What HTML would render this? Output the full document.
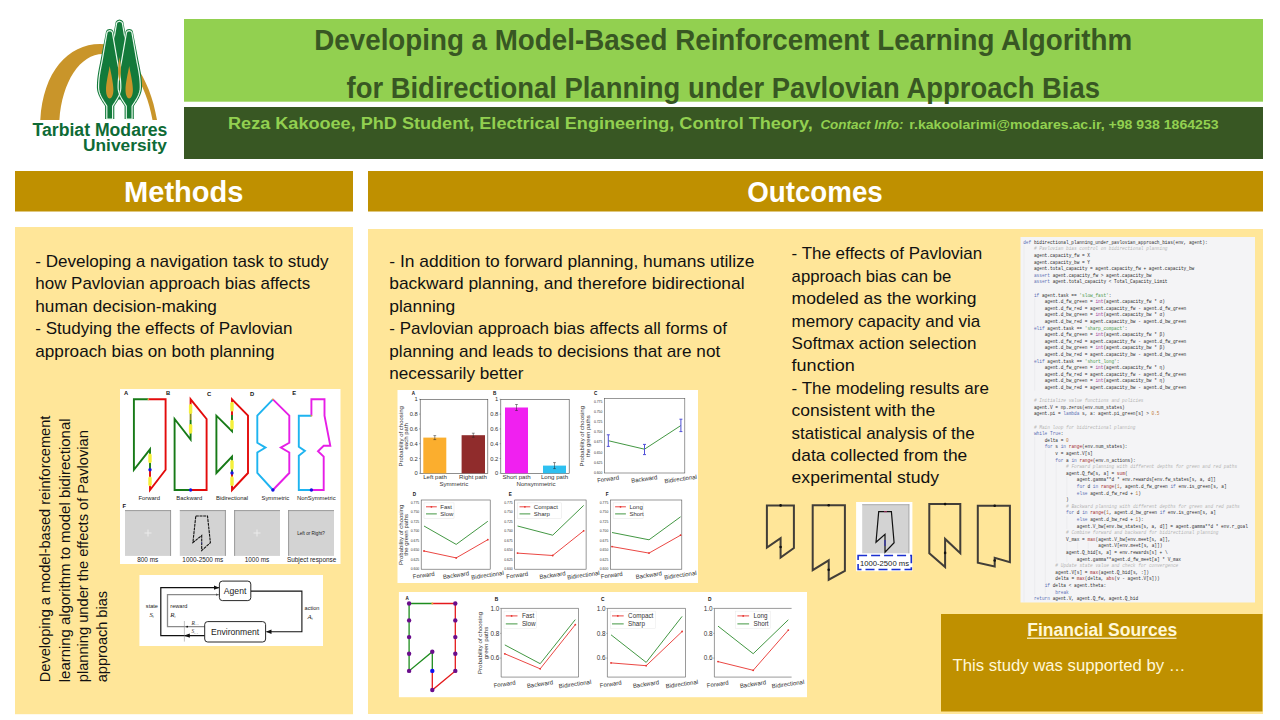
<!DOCTYPE html>
<html><head><meta charset="utf-8">
<style>
html,body{margin:0;padding:0;background:#fff;width:1280px;height:720px;overflow:hidden;}
svg{position:absolute;left:0;top:0;}

</style></head>
<body>
<svg width="1280" height="720" viewBox="0 0 1280 720" font-family="Liberation Sans, sans-serif">
<!-- header bars -->
<rect x="184" y="19" width="1079" height="82.7" fill="#92D050"/>
<rect x="184" y="107" width="1079" height="52" fill="#385723"/>
<text x="314.3" y="50" font-size="29.5" font-weight="bold" fill="#385723" textLength="817.8" lengthAdjust="spacingAndGlyphs">Developing a Model-Based Reinforcement Learning Algorithm</text>
<text x="346.5" y="98" font-size="29.5" font-weight="bold" fill="#385723" textLength="753.5" lengthAdjust="spacingAndGlyphs">for Bidirectional Planning under Pavlovian Approach Bias</text>
<text x="228" y="128.7" font-size="16.8" font-weight="bold" fill="#92D050" textLength="584.7" lengthAdjust="spacingAndGlyphs">Reza Kakooee, PhD Student, Electrical Engineering, Control Theory,</text>
<text x="820.4" y="128.5" font-size="12" font-weight="bold" font-style="italic" fill="#92D050" textLength="83" lengthAdjust="spacingAndGlyphs">Contact Info:</text>
<text x="909.3" y="128.5" font-size="12.5" font-weight="bold" fill="#92D050" textLength="309.3" lengthAdjust="spacingAndGlyphs">r.kakoolarimi@modares.ac.ir, +98 938 1864253</text>

<!-- section headers -->
<rect x="15" y="171" width="338" height="40.5" fill="#BF9000"/>
<rect x="368" y="171" width="895" height="40.5" fill="#BF9000"/>
<text x="124" y="201.6" font-size="29" font-weight="bold" fill="#fff" textLength="119.5" lengthAdjust="spacingAndGlyphs">Methods</text>
<text x="747.2" y="201.5" font-size="29" font-weight="bold" fill="#fff" textLength="135.6" lengthAdjust="spacingAndGlyphs">Outcomes</text>

<!-- bodies -->
<rect x="15" y="227" width="338" height="487.2" fill="#FFE699"/>
<rect x="368" y="229" width="895" height="485" fill="#FFE699"/>

<g font-size="16.2" fill="#111">
<text x="35.3" y="266.6" textLength="293.2" lengthAdjust="spacingAndGlyphs">- Developing a navigation task to study</text>
<text x="35.3" y="289.3" textLength="274.9" lengthAdjust="spacingAndGlyphs">how Pavlovian approach bias affects</text>
<text x="35.3" y="311.8" textLength="181.6" lengthAdjust="spacingAndGlyphs">human decision-making</text>
<text x="35.3" y="334.3" textLength="257.2" lengthAdjust="spacingAndGlyphs">- Studying the effects of Pavlovian</text>
<text x="35.3" y="356.8" textLength="239.2" lengthAdjust="spacingAndGlyphs">approach bias on both planning</text>

<text x="389.3" y="266.8" textLength="365.2" lengthAdjust="spacingAndGlyphs">- In addition to forward planning, humans utilize</text>
<text x="389.3" y="289.2" textLength="355.2" lengthAdjust="spacingAndGlyphs">backward planning, and therefore bidirectional</text>
<text x="389.3" y="311.7" textLength="65.9" lengthAdjust="spacingAndGlyphs">planning</text>
<text x="389.3" y="334.1" textLength="337.6" lengthAdjust="spacingAndGlyphs">- Pavlovian approach bias affects all forms of</text>
<text x="389.3" y="356.5" textLength="330.9" lengthAdjust="spacingAndGlyphs">planning and leads to decisions that are not</text>
<text x="389.3" y="378.9" textLength="134.2" lengthAdjust="spacingAndGlyphs">necessarily better</text>

<text x="791.6" y="259.4" textLength="190.6" lengthAdjust="spacingAndGlyphs">- The effects of Pavlovian</text>
<text x="791.6" y="281.8" textLength="159.6" lengthAdjust="spacingAndGlyphs">approach bias can be</text>
<text x="791.6" y="304.2" textLength="184.8" lengthAdjust="spacingAndGlyphs">modeled as the working</text>
<text x="791.6" y="326.6" textLength="188.7" lengthAdjust="spacingAndGlyphs">memory capacity and via</text>
<text x="791.6" y="349.0" textLength="184.8" lengthAdjust="spacingAndGlyphs">Softmax action selection</text>
<text x="791.6" y="371.4" textLength="63.1" lengthAdjust="spacingAndGlyphs">function</text>
<text x="791.6" y="393.8" textLength="197.3" lengthAdjust="spacingAndGlyphs">- The modeling results are</text>
<text x="791.6" y="416.2" textLength="143.7" lengthAdjust="spacingAndGlyphs">consistent with the</text>
<text x="791.6" y="438.6" textLength="183.1" lengthAdjust="spacingAndGlyphs">statistical analysis of the</text>
<text x="791.6" y="461.0" textLength="175.6" lengthAdjust="spacingAndGlyphs">data collected from the</text>
<text x="791.6" y="483.4" textLength="147.5" lengthAdjust="spacingAndGlyphs">experimental study</text>
</g>

<!-- rotated text -->
<g font-size="15.3" fill="#111">
<text transform="translate(50.3,682.2) rotate(-90)" textLength="266.6" lengthAdjust="spacingAndGlyphs">Developing a model-based reinforcement</text>
<text transform="translate(69.5,682.2) rotate(-90)" textLength="263.7" lengthAdjust="spacingAndGlyphs">learning algorithm to model bidirectional</text>
<text transform="translate(88.1,682.2) rotate(-90)" textLength="252" lengthAdjust="spacingAndGlyphs">planning under the effects of Pavlovian</text>
<text transform="translate(106.5,682.2) rotate(-90)" textLength="91.2" lengthAdjust="spacingAndGlyphs">approach bias</text>
</g>

<!-- financial -->
<rect x="941" y="614" width="321.5" height="97.5" fill="#BF9000"/>
<text x="1027.2" y="635.6" font-size="18" font-weight="bold" fill="#FFF8D8" textLength="150" lengthAdjust="spacingAndGlyphs">Financial Sources</text>
<rect x="1027" y="637.6" width="149.5" height="1.2" fill="#FFF8D8"/>
<text x="952.5" y="670.6" font-size="16.8" fill="#FFF8D8" textLength="233" lengthAdjust="spacingAndGlyphs">This study was supported by …</text>

<!-- LOGO -->
<g id="logo">
<path d="M40.3,120 C43,72 68,44 100,44 C126,44 150,76 157,120 L152.5,120 C146,82 126,54 103,54 C80,54 62,82 59.4,120 Z" fill="#C9952A"/>
<path d="M119.50,19.50 L121.79,20.20 L122.59,20.90 L123.08,21.60 L123.39,22.30 L123.56,23.00 L123.62,23.70 L123.75,24.40 L123.89,25.10 L124.02,25.80 L124.15,26.50 L124.28,27.20 L124.42,27.90 L124.55,28.60 L124.68,29.30 L124.82,30.00 L124.95,30.70 L125.08,31.40 L125.22,32.10 L125.35,32.80 L125.48,33.50 L125.62,34.20 L125.75,34.90 L125.88,35.60 L126.01,36.30 L126.15,37.00 L126.28,37.70 L126.41,38.40 L126.55,39.10 L126.68,39.80 L126.81,40.50 L126.95,41.20 L127.08,41.90 L127.21,42.60 L127.35,43.30 L127.48,44.00 L127.61,44.70 L127.75,45.40 L127.88,46.10 L128.01,46.80 L128.14,47.50 L128.28,48.20 L128.41,48.90 L128.54,49.60 L128.68,50.30 L128.81,51.00 L128.94,51.70 L129.06,52.40 L129.17,53.10 L129.27,53.80 L129.38,54.50 L129.48,55.20 L129.58,55.90 L129.69,56.60 L129.79,57.30 L129.89,58.00 L129.98,58.70 L130.08,59.40 L130.18,60.10 L130.27,60.80 L130.36,61.50 L130.44,62.20 L130.53,62.90 L130.61,63.60 L130.69,64.30 L130.77,65.00 L130.84,65.70 L130.91,66.40 L130.98,67.10 L131.04,67.80 L131.10,68.50 L131.15,69.20 L131.21,69.90 L131.25,70.60 L131.30,71.30 L131.34,72.00 L131.37,72.70 L131.40,73.40 L131.43,74.10 L131.45,74.80 L131.47,75.50 L131.49,76.20 L131.49,76.90 L131.50,77.60 L131.50,78.30 L131.48,79.00 L131.44,79.70 L131.39,80.40 L131.32,81.10 L131.23,81.80 L131.12,82.50 L130.99,83.20 L130.84,83.90 L130.68,84.60 L130.50,85.30 L130.31,86.00 L130.10,86.70 L129.87,87.40 L129.63,88.10 L129.38,88.80 L129.11,89.50 L128.83,90.20 L128.54,90.90 L128.23,91.60 L127.92,92.30 L127.59,93.00 L127.26,93.70 L126.92,94.40 L126.57,95.10 L126.22,95.80 L125.85,96.50 L125.49,97.20 L125.12,97.90 L124.75,98.60 L124.37,99.30 L124.00,100.00 L115.00,100.00 L114.63,99.30 L114.25,98.60 L113.88,97.90 L113.51,97.20 L113.15,96.50 L112.78,95.80 L112.43,95.10 L112.08,94.40 L111.74,93.70 L111.41,93.00 L111.08,92.30 L110.77,91.60 L110.46,90.90 L110.17,90.20 L109.89,89.50 L109.62,88.80 L109.37,88.10 L109.13,87.40 L108.90,86.70 L108.69,86.00 L108.50,85.30 L108.32,84.60 L108.16,83.90 L108.01,83.20 L107.88,82.50 L107.77,81.80 L107.68,81.10 L107.61,80.40 L107.56,79.70 L107.52,79.00 L107.50,78.30 L107.50,77.60 L107.51,76.90 L107.51,76.20 L107.53,75.50 L107.55,74.80 L107.57,74.10 L107.60,73.40 L107.63,72.70 L107.66,72.00 L107.70,71.30 L107.75,70.60 L107.79,69.90 L107.85,69.20 L107.90,68.50 L107.96,67.80 L108.02,67.10 L108.09,66.40 L108.16,65.70 L108.23,65.00 L108.31,64.30 L108.39,63.60 L108.47,62.90 L108.56,62.20 L108.64,61.50 L108.73,60.80 L108.82,60.10 L108.92,59.40 L109.02,58.70 L109.11,58.00 L109.21,57.30 L109.31,56.60 L109.42,55.90 L109.52,55.20 L109.62,54.50 L109.73,53.80 L109.83,53.10 L109.94,52.40 L110.06,51.70 L110.19,51.00 L110.32,50.30 L110.46,49.60 L110.59,48.90 L110.72,48.20 L110.86,47.50 L110.99,46.80 L111.12,46.10 L111.25,45.40 L111.39,44.70 L111.52,44.00 L111.65,43.30 L111.79,42.60 L111.92,41.90 L112.05,41.20 L112.19,40.50 L112.32,39.80 L112.45,39.10 L112.59,38.40 L112.72,37.70 L112.85,37.00 L112.99,36.30 L113.12,35.60 L113.25,34.90 L113.38,34.20 L113.52,33.50 L113.65,32.80 L113.78,32.10 L113.92,31.40 L114.05,30.70 L114.18,30.00 L114.32,29.30 L114.45,28.60 L114.58,27.90 L114.72,27.20 L114.85,26.50 L114.98,25.80 L115.11,25.10 L115.25,24.40 L115.38,23.70 L115.44,23.00 L115.61,22.30 L115.92,21.60 L116.41,20.90 L117.21,20.20 L119.50,19.50Z" fill="#137A3B"/>
<path d="M119.50,21.20 L121.45,21.90 L122.08,22.60 L122.42,23.30 L122.57,24.00 L122.65,24.70 L122.77,25.40 L122.89,26.10 L123.01,26.80 L123.13,27.50 L123.25,28.20 L123.37,28.90 L123.49,29.60 L123.61,30.30 L123.72,31.00 L123.84,31.70 L123.96,32.40 L124.08,33.10 L124.20,33.80 L124.32,34.50 L124.44,35.20 L124.56,35.90 L124.68,36.60 L124.80,37.30 L124.92,38.00 L125.04,38.70 L125.15,39.40 L125.27,40.10 L125.39,40.80 L125.51,41.50 L125.63,42.20 L125.75,42.90 L125.87,43.60 L125.99,44.30 L126.11,45.00 L126.23,45.70 L126.35,46.40 L126.47,47.10 L126.58,47.80 L126.70,48.50 L126.82,49.20 L126.94,49.90 L127.06,50.60 L127.18,51.30 L127.30,52.00 L127.41,52.70 L127.51,53.40 L127.62,54.10 L127.72,54.80 L127.82,55.50 L127.93,56.20 L128.03,56.90 L128.13,57.60 L128.23,58.30 L128.33,59.00 L128.42,59.70 L128.51,60.40 L128.61,61.10 L128.70,61.80 L128.78,62.50 L128.87,63.20 L128.95,63.90 L129.02,64.60 L129.10,65.30 L129.17,66.00 L129.24,66.70 L129.30,67.40 L129.37,68.10 L129.42,68.80 L129.48,69.50 L129.53,70.20 L129.57,70.90 L129.62,71.60 L129.65,72.30 L129.69,73.00 L129.72,73.70 L129.74,74.40 L129.76,75.10 L129.78,75.80 L129.79,76.50 L129.80,77.20 L129.80,77.90 L129.79,78.60 L129.77,79.30 L129.72,80.00 L129.66,80.70 L129.58,81.40 L129.48,82.10 L129.36,82.80 L129.23,83.50 L129.08,84.20 L128.91,84.90 L128.72,85.60 L128.52,86.30 L128.30,87.00 L128.07,87.70 L127.83,88.40 L127.57,89.10 L127.29,89.80 L127.01,90.50 L126.71,91.20 L126.40,91.90 L126.08,92.60 L125.75,93.30 L125.42,94.00 L125.07,94.70 L124.72,95.40 L124.36,96.10 L124.00,96.80 L123.63,97.50 L123.26,98.20 L122.89,98.90 L122.51,99.60 L122.30,100.00 L116.70,100.00 L116.49,99.60 L116.11,98.90 L115.74,98.20 L115.37,97.50 L115.00,96.80 L114.64,96.10 L114.28,95.40 L113.93,94.70 L113.58,94.00 L113.25,93.30 L112.92,92.60 L112.60,91.90 L112.29,91.20 L111.99,90.50 L111.71,89.80 L111.43,89.10 L111.17,88.40 L110.93,87.70 L110.70,87.00 L110.48,86.30 L110.28,85.60 L110.09,84.90 L109.92,84.20 L109.77,83.50 L109.64,82.80 L109.52,82.10 L109.42,81.40 L109.34,80.70 L109.28,80.00 L109.23,79.30 L109.21,78.60 L109.20,77.90 L109.20,77.20 L109.21,76.50 L109.22,75.80 L109.24,75.10 L109.26,74.40 L109.28,73.70 L109.31,73.00 L109.35,72.30 L109.38,71.60 L109.43,70.90 L109.47,70.20 L109.52,69.50 L109.58,68.80 L109.63,68.10 L109.70,67.40 L109.76,66.70 L109.83,66.00 L109.90,65.30 L109.98,64.60 L110.05,63.90 L110.13,63.20 L110.22,62.50 L110.30,61.80 L110.39,61.10 L110.49,60.40 L110.58,59.70 L110.67,59.00 L110.77,58.30 L110.87,57.60 L110.97,56.90 L111.07,56.20 L111.18,55.50 L111.28,54.80 L111.38,54.10 L111.49,53.40 L111.59,52.70 L111.70,52.00 L111.82,51.30 L111.94,50.60 L112.06,49.90 L112.18,49.20 L112.30,48.50 L112.42,47.80 L112.53,47.10 L112.65,46.40 L112.77,45.70 L112.89,45.00 L113.01,44.30 L113.13,43.60 L113.25,42.90 L113.37,42.20 L113.49,41.50 L113.61,40.80 L113.73,40.10 L113.85,39.40 L113.96,38.70 L114.08,38.00 L114.20,37.30 L114.32,36.60 L114.44,35.90 L114.56,35.20 L114.68,34.50 L114.80,33.80 L114.92,33.10 L115.04,32.40 L115.16,31.70 L115.28,31.00 L115.39,30.30 L115.51,29.60 L115.63,28.90 L115.75,28.20 L115.87,27.50 L115.99,26.80 L116.11,26.10 L116.23,25.40 L116.35,24.70 L116.43,24.00 L116.58,23.30 L116.92,22.60 L117.55,21.90 L119.50,21.20Z" fill="none" stroke="#E8F8EC" stroke-width="1.2"/>
<path d="M109.70,28.90 L111.93,29.60 L112.69,30.30 L113.16,31.00 L113.44,31.70 L113.58,32.40 L113.66,33.10 L113.79,33.80 L113.93,34.50 L114.06,35.20 L114.19,35.90 L114.33,36.60 L114.46,37.30 L114.60,38.00 L114.73,38.70 L114.87,39.40 L115.00,40.10 L115.13,40.80 L115.27,41.50 L115.40,42.20 L115.54,42.90 L115.67,43.60 L115.81,44.30 L115.94,45.00 L116.07,45.70 L116.21,46.40 L116.34,47.10 L116.48,47.80 L116.61,48.50 L116.75,49.20 L116.88,49.90 L117.01,50.60 L117.15,51.30 L117.28,52.00 L117.42,52.70 L117.55,53.40 L117.68,54.10 L117.82,54.80 L117.95,55.50 L118.09,56.20 L118.22,56.90 L118.36,57.60 L118.49,58.30 L118.62,59.00 L118.76,59.70 L118.89,60.40 L119.03,61.10 L119.16,61.80 L119.30,62.50 L119.45,63.20 L119.59,63.90 L119.74,64.60 L119.88,65.30 L120.02,66.00 L120.16,66.70 L120.30,67.40 L120.43,68.10 L120.57,68.80 L120.70,69.50 L120.83,70.20 L120.95,70.90 L121.07,71.60 L121.19,72.30 L121.30,73.00 L121.41,73.70 L121.52,74.40 L121.62,75.10 L121.72,75.80 L121.81,76.50 L121.89,77.20 L121.98,77.90 L122.05,78.60 L122.12,79.30 L122.19,80.00 L122.24,80.70 L122.30,81.40 L122.34,82.10 L122.39,82.80 L122.42,83.50 L122.45,84.20 L122.47,84.90 L122.49,85.60 L122.50,86.30 L122.50,87.00 L122.49,87.70 L122.45,88.40 L122.38,89.10 L122.28,89.80 L122.16,90.50 L122.01,91.20 L121.84,91.90 L121.64,92.60 L121.41,93.30 L121.16,94.00 L120.89,94.70 L120.60,95.40 L120.29,96.10 L119.95,96.80 L119.60,97.50 L119.23,98.20 L118.84,98.90 L118.44,99.60 L118.02,100.30 L117.59,101.00 L117.15,101.70 L116.70,102.40 L116.25,103.10 L115.78,103.80 L115.31,104.50 L114.84,105.20 L114.37,105.90 L114.30,106.60 L114.30,107.30 L114.30,108.00 L114.30,108.70 L114.30,109.40 L114.30,110.10 L114.30,110.80 L114.30,111.50 L114.30,112.20 L114.30,112.90 L114.30,113.60 L114.30,114.30 L114.30,115.00 L114.30,115.70 L114.30,116.40 L114.30,117.10 L114.30,117.80 L114.30,118.50 L114.30,119.00 L105.10,119.00 L105.10,118.50 L105.10,117.80 L105.10,117.10 L105.10,116.40 L105.10,115.70 L105.10,115.00 L105.10,114.30 L105.10,113.60 L105.10,112.90 L105.10,112.20 L105.10,111.50 L105.10,110.80 L105.10,110.10 L105.10,109.40 L105.10,108.70 L105.10,108.00 L105.10,107.30 L105.10,106.60 L105.03,105.90 L104.56,105.20 L104.09,104.50 L103.62,103.80 L103.15,103.10 L102.70,102.40 L102.25,101.70 L101.81,101.00 L101.38,100.30 L100.96,99.60 L100.56,98.90 L100.17,98.20 L99.80,97.50 L99.45,96.80 L99.11,96.10 L98.80,95.40 L98.51,94.70 L98.24,94.00 L97.99,93.30 L97.76,92.60 L97.56,91.90 L97.39,91.20 L97.24,90.50 L97.12,89.80 L97.02,89.10 L96.95,88.40 L96.91,87.70 L96.90,87.00 L96.90,86.30 L96.91,85.60 L96.93,84.90 L96.95,84.20 L96.98,83.50 L97.01,82.80 L97.06,82.10 L97.10,81.40 L97.16,80.70 L97.21,80.00 L97.28,79.30 L97.35,78.60 L97.42,77.90 L97.51,77.20 L97.59,76.50 L97.68,75.80 L97.78,75.10 L97.88,74.40 L97.99,73.70 L98.10,73.00 L98.21,72.30 L98.33,71.60 L98.45,70.90 L98.57,70.20 L98.70,69.50 L98.83,68.80 L98.97,68.10 L99.10,67.40 L99.24,66.70 L99.38,66.00 L99.52,65.30 L99.66,64.60 L99.81,63.90 L99.95,63.20 L100.10,62.50 L100.24,61.80 L100.37,61.10 L100.51,60.40 L100.64,59.70 L100.78,59.00 L100.91,58.30 L101.04,57.60 L101.18,56.90 L101.31,56.20 L101.45,55.50 L101.58,54.80 L101.72,54.10 L101.85,53.40 L101.98,52.70 L102.12,52.00 L102.25,51.30 L102.39,50.60 L102.52,49.90 L102.65,49.20 L102.79,48.50 L102.92,47.80 L103.06,47.10 L103.19,46.40 L103.33,45.70 L103.46,45.00 L103.59,44.30 L103.73,43.60 L103.86,42.90 L104.00,42.20 L104.13,41.50 L104.27,40.80 L104.40,40.10 L104.53,39.40 L104.67,38.70 L104.80,38.00 L104.94,37.30 L105.07,36.60 L105.21,35.90 L105.34,35.20 L105.47,34.50 L105.61,33.80 L105.74,33.10 L105.82,32.40 L105.96,31.70 L106.24,31.00 L106.71,30.30 L107.47,29.60 L109.70,28.90Z" fill="#137A3B"/>
<path d="M129.20,28.90 L131.43,29.60 L132.19,30.30 L132.66,31.00 L132.94,31.70 L133.08,32.40 L133.16,33.10 L133.29,33.80 L133.43,34.50 L133.56,35.20 L133.69,35.90 L133.83,36.60 L133.96,37.30 L134.10,38.00 L134.23,38.70 L134.37,39.40 L134.50,40.10 L134.63,40.80 L134.77,41.50 L134.90,42.20 L135.04,42.90 L135.17,43.60 L135.31,44.30 L135.44,45.00 L135.57,45.70 L135.71,46.40 L135.84,47.10 L135.98,47.80 L136.11,48.50 L136.25,49.20 L136.38,49.90 L136.51,50.60 L136.65,51.30 L136.78,52.00 L136.92,52.70 L137.05,53.40 L137.18,54.10 L137.32,54.80 L137.45,55.50 L137.59,56.20 L137.72,56.90 L137.86,57.60 L137.99,58.30 L138.12,59.00 L138.26,59.70 L138.39,60.40 L138.53,61.10 L138.66,61.80 L138.80,62.50 L138.95,63.20 L139.09,63.90 L139.24,64.60 L139.38,65.30 L139.52,66.00 L139.66,66.70 L139.80,67.40 L139.93,68.10 L140.07,68.80 L140.20,69.50 L140.33,70.20 L140.45,70.90 L140.57,71.60 L140.69,72.30 L140.80,73.00 L140.91,73.70 L141.02,74.40 L141.12,75.10 L141.22,75.80 L141.31,76.50 L141.39,77.20 L141.48,77.90 L141.55,78.60 L141.62,79.30 L141.69,80.00 L141.74,80.70 L141.80,81.40 L141.84,82.10 L141.89,82.80 L141.92,83.50 L141.95,84.20 L141.97,84.90 L141.99,85.60 L142.00,86.30 L142.00,87.00 L141.99,87.70 L141.95,88.40 L141.88,89.10 L141.78,89.80 L141.66,90.50 L141.51,91.20 L141.34,91.90 L141.14,92.60 L140.91,93.30 L140.66,94.00 L140.39,94.70 L140.10,95.40 L139.79,96.10 L139.45,96.80 L139.10,97.50 L138.73,98.20 L138.34,98.90 L137.94,99.60 L137.52,100.30 L137.09,101.00 L136.65,101.70 L136.20,102.40 L135.75,103.10 L135.28,103.80 L134.81,104.50 L134.34,105.20 L133.87,105.90 L133.80,106.60 L133.80,107.30 L133.80,108.00 L133.80,108.70 L133.80,109.40 L133.80,110.10 L133.80,110.80 L133.80,111.50 L133.80,112.20 L133.80,112.90 L133.80,113.60 L133.80,114.30 L133.80,115.00 L133.80,115.70 L133.80,116.40 L133.80,117.10 L133.80,117.80 L133.80,118.50 L133.80,119.00 L124.60,119.00 L124.60,118.50 L124.60,117.80 L124.60,117.10 L124.60,116.40 L124.60,115.70 L124.60,115.00 L124.60,114.30 L124.60,113.60 L124.60,112.90 L124.60,112.20 L124.60,111.50 L124.60,110.80 L124.60,110.10 L124.60,109.40 L124.60,108.70 L124.60,108.00 L124.60,107.30 L124.60,106.60 L124.53,105.90 L124.06,105.20 L123.59,104.50 L123.12,103.80 L122.65,103.10 L122.20,102.40 L121.75,101.70 L121.31,101.00 L120.88,100.30 L120.46,99.60 L120.06,98.90 L119.67,98.20 L119.30,97.50 L118.95,96.80 L118.61,96.10 L118.30,95.40 L118.01,94.70 L117.74,94.00 L117.49,93.30 L117.26,92.60 L117.06,91.90 L116.89,91.20 L116.74,90.50 L116.62,89.80 L116.52,89.10 L116.45,88.40 L116.41,87.70 L116.40,87.00 L116.40,86.30 L116.41,85.60 L116.43,84.90 L116.45,84.20 L116.48,83.50 L116.51,82.80 L116.56,82.10 L116.60,81.40 L116.66,80.70 L116.71,80.00 L116.78,79.30 L116.85,78.60 L116.92,77.90 L117.01,77.20 L117.09,76.50 L117.18,75.80 L117.28,75.10 L117.38,74.40 L117.49,73.70 L117.60,73.00 L117.71,72.30 L117.83,71.60 L117.95,70.90 L118.07,70.20 L118.20,69.50 L118.33,68.80 L118.47,68.10 L118.60,67.40 L118.74,66.70 L118.88,66.00 L119.02,65.30 L119.16,64.60 L119.31,63.90 L119.45,63.20 L119.60,62.50 L119.74,61.80 L119.87,61.10 L120.01,60.40 L120.14,59.70 L120.28,59.00 L120.41,58.30 L120.54,57.60 L120.68,56.90 L120.81,56.20 L120.95,55.50 L121.08,54.80 L121.22,54.10 L121.35,53.40 L121.48,52.70 L121.62,52.00 L121.75,51.30 L121.89,50.60 L122.02,49.90 L122.15,49.20 L122.29,48.50 L122.42,47.80 L122.56,47.10 L122.69,46.40 L122.83,45.70 L122.96,45.00 L123.09,44.30 L123.23,43.60 L123.36,42.90 L123.50,42.20 L123.63,41.50 L123.77,40.80 L123.90,40.10 L124.03,39.40 L124.17,38.70 L124.30,38.00 L124.44,37.30 L124.57,36.60 L124.71,35.90 L124.84,35.20 L124.97,34.50 L125.11,33.80 L125.24,33.10 L125.32,32.40 L125.46,31.70 L125.74,31.00 L126.21,30.30 L126.97,29.60 L129.20,28.90Z" fill="#137A3B"/>
<path d="M109.70,30.60 L111.58,31.30 L112.17,32.00 L112.47,32.70 L112.58,33.40 L112.69,34.10 L112.81,34.80 L112.93,35.50 L113.05,36.20 L113.17,36.90 L113.29,37.60 L113.41,38.30 L113.53,39.00 L113.65,39.70 L113.77,40.40 L113.89,41.10 L114.02,41.80 L114.14,42.50 L114.26,43.20 L114.38,43.90 L114.50,44.60 L114.62,45.30 L114.74,46.00 L114.86,46.70 L114.98,47.40 L115.10,48.10 L115.22,48.80 L115.34,49.50 L115.46,50.20 L115.59,50.90 L115.71,51.60 L115.83,52.30 L115.95,53.00 L116.07,53.70 L116.19,54.40 L116.31,55.10 L116.43,55.80 L116.55,56.50 L116.67,57.20 L116.79,57.90 L116.91,58.60 L117.03,59.30 L117.15,60.00 L117.28,60.70 L117.40,61.40 L117.52,62.10 L117.67,62.80 L117.81,63.50 L117.95,64.20 L118.10,64.90 L118.24,65.60 L118.38,66.30 L118.52,67.00 L118.66,67.70 L118.79,68.40 L118.92,69.10 L119.05,69.80 L119.18,70.50 L119.30,71.20 L119.42,71.90 L119.54,72.60 L119.65,73.30 L119.76,74.00 L119.86,74.70 L119.96,75.40 L120.06,76.10 L120.15,76.80 L120.23,77.50 L120.31,78.20 L120.38,78.90 L120.45,79.60 L120.51,80.30 L120.57,81.00 L120.62,81.70 L120.66,82.40 L120.70,83.10 L120.73,83.80 L120.76,84.50 L120.78,85.20 L120.79,85.90 L120.80,86.60 L120.80,87.30 L120.77,88.00 L120.72,88.70 L120.64,89.40 L120.53,90.10 L120.40,90.80 L120.24,91.50 L120.05,92.20 L119.84,92.90 L119.61,93.60 L119.35,94.30 L119.07,95.00 L118.77,95.70 L118.45,96.40 L118.10,97.10 L117.74,97.80 L117.36,98.50 L116.97,99.20 L116.56,99.90 L116.14,100.60 L115.71,101.30 L115.26,102.00 L114.81,102.70 L114.35,103.40 L113.88,104.10 L113.41,104.80 L112.94,105.50 L112.60,106.20 L112.60,106.90 L112.60,107.60 L112.60,108.30 L112.60,109.00 L112.60,109.70 L112.60,110.40 L112.60,111.10 L112.60,111.80 L112.60,112.50 L112.60,113.20 L112.60,113.90 L112.60,114.60 L112.60,115.30 L112.60,116.00 L112.60,116.70 L112.60,117.40 L112.60,118.10 L112.60,118.80 L112.60,119.00 L106.80,119.00 L106.80,118.80 L106.80,118.10 L106.80,117.40 L106.80,116.70 L106.80,116.00 L106.80,115.30 L106.80,114.60 L106.80,113.90 L106.80,113.20 L106.80,112.50 L106.80,111.80 L106.80,111.10 L106.80,110.40 L106.80,109.70 L106.80,109.00 L106.80,108.30 L106.80,107.60 L106.80,106.90 L106.80,106.20 L106.46,105.50 L105.99,104.80 L105.52,104.10 L105.05,103.40 L104.59,102.70 L104.14,102.00 L103.69,101.30 L103.26,100.60 L102.84,99.90 L102.43,99.20 L102.04,98.50 L101.66,97.80 L101.30,97.10 L100.95,96.40 L100.63,95.70 L100.33,95.00 L100.05,94.30 L99.79,93.60 L99.56,92.90 L99.35,92.20 L99.16,91.50 L99.00,90.80 L98.87,90.10 L98.76,89.40 L98.68,88.70 L98.63,88.00 L98.60,87.30 L98.60,86.60 L98.61,85.90 L98.62,85.20 L98.64,84.50 L98.67,83.80 L98.70,83.10 L98.74,82.40 L98.78,81.70 L98.83,81.00 L98.89,80.30 L98.95,79.60 L99.02,78.90 L99.09,78.20 L99.17,77.50 L99.25,76.80 L99.34,76.10 L99.44,75.40 L99.54,74.70 L99.64,74.00 L99.75,73.30 L99.86,72.60 L99.98,71.90 L100.10,71.20 L100.22,70.50 L100.35,69.80 L100.48,69.10 L100.61,68.40 L100.74,67.70 L100.88,67.00 L101.02,66.30 L101.16,65.60 L101.30,64.90 L101.45,64.20 L101.59,63.50 L101.73,62.80 L101.88,62.10 L102.00,61.40 L102.12,60.70 L102.25,60.00 L102.37,59.30 L102.49,58.60 L102.61,57.90 L102.73,57.20 L102.85,56.50 L102.97,55.80 L103.09,55.10 L103.21,54.40 L103.33,53.70 L103.45,53.00 L103.57,52.30 L103.69,51.60 L103.81,50.90 L103.94,50.20 L104.06,49.50 L104.18,48.80 L104.30,48.10 L104.42,47.40 L104.54,46.70 L104.66,46.00 L104.78,45.30 L104.90,44.60 L105.02,43.90 L105.14,43.20 L105.26,42.50 L105.38,41.80 L105.51,41.10 L105.63,40.40 L105.75,39.70 L105.87,39.00 L105.99,38.30 L106.11,37.60 L106.23,36.90 L106.35,36.20 L106.47,35.50 L106.59,34.80 L106.71,34.10 L106.82,33.40 L106.93,32.70 L107.23,32.00 L107.82,31.30 L109.70,30.60Z" fill="none" stroke="#E8F8EC" stroke-width="1.2"/>
<path d="M129.20,30.60 L131.08,31.30 L131.67,32.00 L131.97,32.70 L132.08,33.40 L132.19,34.10 L132.31,34.80 L132.43,35.50 L132.55,36.20 L132.67,36.90 L132.79,37.60 L132.91,38.30 L133.03,39.00 L133.15,39.70 L133.27,40.40 L133.39,41.10 L133.52,41.80 L133.64,42.50 L133.76,43.20 L133.88,43.90 L134.00,44.60 L134.12,45.30 L134.24,46.00 L134.36,46.70 L134.48,47.40 L134.60,48.10 L134.72,48.80 L134.84,49.50 L134.96,50.20 L135.09,50.90 L135.21,51.60 L135.33,52.30 L135.45,53.00 L135.57,53.70 L135.69,54.40 L135.81,55.10 L135.93,55.80 L136.05,56.50 L136.17,57.20 L136.29,57.90 L136.41,58.60 L136.53,59.30 L136.65,60.00 L136.78,60.70 L136.90,61.40 L137.02,62.10 L137.17,62.80 L137.31,63.50 L137.45,64.20 L137.60,64.90 L137.74,65.60 L137.88,66.30 L138.02,67.00 L138.16,67.70 L138.29,68.40 L138.42,69.10 L138.55,69.80 L138.68,70.50 L138.80,71.20 L138.92,71.90 L139.04,72.60 L139.15,73.30 L139.26,74.00 L139.36,74.70 L139.46,75.40 L139.56,76.10 L139.65,76.80 L139.73,77.50 L139.81,78.20 L139.88,78.90 L139.95,79.60 L140.01,80.30 L140.07,81.00 L140.12,81.70 L140.16,82.40 L140.20,83.10 L140.23,83.80 L140.26,84.50 L140.28,85.20 L140.29,85.90 L140.30,86.60 L140.30,87.30 L140.27,88.00 L140.22,88.70 L140.14,89.40 L140.03,90.10 L139.90,90.80 L139.74,91.50 L139.55,92.20 L139.34,92.90 L139.11,93.60 L138.85,94.30 L138.57,95.00 L138.27,95.70 L137.95,96.40 L137.60,97.10 L137.24,97.80 L136.86,98.50 L136.47,99.20 L136.06,99.90 L135.64,100.60 L135.21,101.30 L134.76,102.00 L134.31,102.70 L133.85,103.40 L133.38,104.10 L132.91,104.80 L132.44,105.50 L132.10,106.20 L132.10,106.90 L132.10,107.60 L132.10,108.30 L132.10,109.00 L132.10,109.70 L132.10,110.40 L132.10,111.10 L132.10,111.80 L132.10,112.50 L132.10,113.20 L132.10,113.90 L132.10,114.60 L132.10,115.30 L132.10,116.00 L132.10,116.70 L132.10,117.40 L132.10,118.10 L132.10,118.80 L132.10,119.00 L126.30,119.00 L126.30,118.80 L126.30,118.10 L126.30,117.40 L126.30,116.70 L126.30,116.00 L126.30,115.30 L126.30,114.60 L126.30,113.90 L126.30,113.20 L126.30,112.50 L126.30,111.80 L126.30,111.10 L126.30,110.40 L126.30,109.70 L126.30,109.00 L126.30,108.30 L126.30,107.60 L126.30,106.90 L126.30,106.20 L125.96,105.50 L125.49,104.80 L125.02,104.10 L124.55,103.40 L124.09,102.70 L123.64,102.00 L123.19,101.30 L122.76,100.60 L122.34,99.90 L121.93,99.20 L121.54,98.50 L121.16,97.80 L120.80,97.10 L120.45,96.40 L120.13,95.70 L119.83,95.00 L119.55,94.30 L119.29,93.60 L119.06,92.90 L118.85,92.20 L118.66,91.50 L118.50,90.80 L118.37,90.10 L118.26,89.40 L118.18,88.70 L118.13,88.00 L118.10,87.30 L118.10,86.60 L118.11,85.90 L118.12,85.20 L118.14,84.50 L118.17,83.80 L118.20,83.10 L118.24,82.40 L118.28,81.70 L118.33,81.00 L118.39,80.30 L118.45,79.60 L118.52,78.90 L118.59,78.20 L118.67,77.50 L118.75,76.80 L118.84,76.10 L118.94,75.40 L119.04,74.70 L119.14,74.00 L119.25,73.30 L119.36,72.60 L119.48,71.90 L119.60,71.20 L119.72,70.50 L119.85,69.80 L119.98,69.10 L120.11,68.40 L120.24,67.70 L120.38,67.00 L120.52,66.30 L120.66,65.60 L120.80,64.90 L120.95,64.20 L121.09,63.50 L121.23,62.80 L121.38,62.10 L121.50,61.40 L121.62,60.70 L121.75,60.00 L121.87,59.30 L121.99,58.60 L122.11,57.90 L122.23,57.20 L122.35,56.50 L122.47,55.80 L122.59,55.10 L122.71,54.40 L122.83,53.70 L122.95,53.00 L123.07,52.30 L123.19,51.60 L123.31,50.90 L123.44,50.20 L123.56,49.50 L123.68,48.80 L123.80,48.10 L123.92,47.40 L124.04,46.70 L124.16,46.00 L124.28,45.30 L124.40,44.60 L124.52,43.90 L124.64,43.20 L124.76,42.50 L124.88,41.80 L125.01,41.10 L125.13,40.40 L125.25,39.70 L125.37,39.00 L125.49,38.30 L125.61,37.60 L125.73,36.90 L125.85,36.20 L125.97,35.50 L126.09,34.80 L126.21,34.10 L126.32,33.40 L126.43,32.70 L126.73,32.00 L127.32,31.30 L129.20,30.60Z" fill="none" stroke="#E8F8EC" stroke-width="1.2"/>
<path d="M119.5,57 C120.8,65 121.8,73 119.5,81 C117.2,73 118.2,65 119.5,57Z" fill="#C9952A"/>
<path d="M109.7,66 C110.9,73 113.4,83 113.4,90 C113.4,95 111.4,98.5 109.7,98.5 C108.0,98.5 106.0,95 106.0,90 C106.0,83 108.5,73 109.7,66Z" fill="#C9952A"/>
<path d="M129.2,66 C130.39999999999998,73 132.89999999999998,83 132.89999999999998,90 C132.89999999999998,95 130.89999999999998,98.5 129.2,98.5 C127.49999999999999,98.5 125.49999999999999,95 125.49999999999999,90 C125.49999999999999,83 127.99999999999999,73 129.2,66Z" fill="#C9952A"/>
<text x="32.6" y="136" font-size="17.5" font-weight="bold" fill="#0E6B36" textLength="134.8" lengthAdjust="spacingAndGlyphs">Tarbiat Modares</text>
<text x="83" y="151.4" font-size="16.6" font-weight="bold" fill="#0E6B36" textLength="83.8" lengthAdjust="spacingAndGlyphs">University</text>
</g>






<!-- FIGURES -->
<g id="fig1">
<rect x="120" y="389" width="220.5" height="175" fill="#fff"/>
<text x="126.2" y="394.5" font-size="5.8" font-weight="bold" fill="#111" text-anchor="middle">A</text>
<text x="168" y="394.5" font-size="5.8" font-weight="bold" fill="#111" text-anchor="middle">B</text>
<text x="209" y="395.5" font-size="5.8" font-weight="bold" fill="#111" text-anchor="middle">C</text>
<text x="252" y="395.5" font-size="5.8" font-weight="bold" fill="#111" text-anchor="middle">D</text>
<text x="294.2" y="394.5" font-size="5.8" font-weight="bold" fill="#111" text-anchor="middle">E</text>
<text x="124.3" y="507.5" font-size="5.8" font-weight="bold" fill="#111" text-anchor="middle">F</text>
<polyline points="148.3,399.3 133.9,399.3 133.9,469.8 150,449.3 150,470" fill="none" stroke="#177A17" stroke-width="1.9" stroke-linejoin="miter"/>
<polyline points="148.3,399.3 165.6,399.3 165.6,469.8 150,490 150,470" fill="none" stroke="#E30B0B" stroke-width="1.9" stroke-linejoin="miter"/>
<circle cx="148.3" cy="399.3" r="0.9" fill="#E69B3C"/>
<line x1="150" y1="455.1" x2="150" y2="461.5" stroke="#F5F03A" stroke-width="3.4" stroke-linecap="round"/>
<line x1="150" y1="478.1" x2="150" y2="484.5" stroke="#F5F03A" stroke-width="3.4" stroke-linecap="round"/>
<circle cx="150" cy="469.8" r="1.7" fill="#1515E0"/>
<polyline points="190.6,490 174.6,490 174.6,419 190.6,439.5 190.6,420" fill="none" stroke="#177A17" stroke-width="1.9" stroke-linejoin="miter"/>
<polyline points="190.6,490 206.6,490 206.6,419 190.6,399.3 190.6,412" fill="none" stroke="#E30B0B" stroke-width="1.9" stroke-linejoin="miter"/>
<polyline points="190.6,412 190.6,420" fill="none" stroke="#8a8a20" stroke-width="1.9" stroke-linejoin="miter"/>
<line x1="190.6" y1="405.8" x2="190.6" y2="412.2" stroke="#F5F03A" stroke-width="3.4" stroke-linecap="round"/>
<line x1="190.6" y1="425.6" x2="190.6" y2="432.0" stroke="#F5F03A" stroke-width="3.4" stroke-linecap="round"/>
<circle cx="190.6" cy="490" r="1.7" fill="#1515E0"/>
<polyline points="232,473 232,456.6 216.4,473 216.4,415.7 232,431.2 232,415" fill="none" stroke="#177A17" stroke-width="1.9" stroke-linejoin="miter"/>
<polyline points="232,473 232,490 248,473 248,415.7 232,399.3 232,415" fill="none" stroke="#E30B0B" stroke-width="1.9" stroke-linejoin="miter"/>
<line x1="232" y1="403.5" x2="232" y2="409.9" stroke="#F5F03A" stroke-width="3.4" stroke-linecap="round"/>
<line x1="232" y1="421.5" x2="232" y2="427.9" stroke="#F5F03A" stroke-width="3.4" stroke-linecap="round"/>
<line x1="232" y1="461.6" x2="232" y2="468.0" stroke="#F5F03A" stroke-width="3.4" stroke-linecap="round"/>
<line x1="232" y1="478.0" x2="232" y2="484.4" stroke="#F5F03A" stroke-width="3.4" stroke-linecap="round"/>
<circle cx="232" cy="473" r="1.7" fill="#1515E0"/>
<polyline points="272.9,399.3 257.3,415.7 257.3,442.7 265.5,447.6 257.3,452.5 257.3,473 272.9,490" fill="none" stroke="#1EB4F0" stroke-width="1.9" stroke-linejoin="miter"/>
<polyline points="272.9,399.3 289.3,415.7 289.3,442.7 280.8,447.6 289.3,452.5 289.3,473 272.9,490" fill="none" stroke="#E61EE6" stroke-width="1.9" stroke-linejoin="miter"/>
<circle cx="272.9" cy="399.3" r="0.9" fill="#E69B3C"/>
<circle cx="272.9" cy="490" r="1.7" fill="#1515E0"/>
<polyline points="311.4,415.7 311.4,399.3 324.5,399.3 324.5,415.7 330.3,445.7 323.7,445.7 318,451.2 323.7,456.6 323.7,490 311.4,490" fill="none" stroke="#E61EE6" stroke-width="1.9" stroke-linejoin="miter"/>
<polyline points="311.4,415.7 298.8,415.7 298.8,446.8 304.9,450.9 298.8,455.8 298.8,490 311.4,490" fill="none" stroke="#1EB4F0" stroke-width="1.9" stroke-linejoin="miter"/>
<circle cx="311.4" cy="415.7" r="0.9" fill="#E69B3C"/>
<circle cx="311.4" cy="490" r="1.7" fill="#1515E0"/>
<text x="149.2" y="500" font-size="5.9" fill="#222" text-anchor="middle">Forward</text>
<text x="189.3" y="500" font-size="5.9" fill="#222" text-anchor="middle">Backward</text>
<text x="232" y="500" font-size="5.9" fill="#222" text-anchor="middle">Bidirectional</text>
<text x="275.4" y="500" font-size="5.9" fill="#222" text-anchor="middle">Symmetric</text>
<text x="316.3" y="500" font-size="5.9" fill="#222" text-anchor="middle">NonSymmetric</text>
<rect x="125" y="510.2" width="46" height="45.7" fill="#D3D3D3"/>
<line x1="125" y1="510.6" x2="171" y2="510.6" stroke="#8a8a8a" stroke-width="0.8"/>
<line x1="170.6" y1="510.2" x2="170.6" y2="555.9" stroke="#8a8a8a" stroke-width="0.8"/>
<rect x="179.8" y="510.2" width="46.0" height="45.7" fill="#D3D3D3"/>
<line x1="179.8" y1="510.6" x2="225.8" y2="510.6" stroke="#8a8a8a" stroke-width="0.8"/>
<line x1="225.4" y1="510.2" x2="225.4" y2="555.9" stroke="#8a8a8a" stroke-width="0.8"/>
<rect x="234.2" y="510.2" width="45.80000000000001" height="45.7" fill="#D3D3D3"/>
<line x1="234.2" y1="510.6" x2="280" y2="510.6" stroke="#8a8a8a" stroke-width="0.8"/>
<line x1="234.6" y1="510.2" x2="234.6" y2="555.9" stroke="#8a8a8a" stroke-width="0.8"/>
<rect x="288.2" y="510.2" width="45.80000000000001" height="45.7" fill="#D3D3D3"/>
<line x1="288.2" y1="510.6" x2="334" y2="510.6" stroke="#8a8a8a" stroke-width="0.8"/>
<line x1="288.59999999999997" y1="510.2" x2="288.59999999999997" y2="555.9" stroke="#8a8a8a" stroke-width="0.8"/>
<path d="M144.5,533 H151.5 M148,529.5 V536.5" stroke="#EDEDED" stroke-width="0.9"/>
<path d="M253.5,533 H260.5 M257,529.5 V536.5" stroke="#EDEDED" stroke-width="0.9"/>
<polyline points="195.8,516 207.5,516 210.4,542.7 201.7,550.5 201.7,535.5 192.9,542.6 195.8,516" fill="none" stroke="#111" stroke-width="1.1" stroke-dasharray="3,0.7"/>
<circle cx="201.7" cy="543" r="0.6" fill="#3030D0"/>
<text x="311" y="534.5" font-size="4.6" fill="#222" text-anchor="middle">Left or Right?</text>
<text x="147.7" y="561.7" font-size="6.4" fill="#222" text-anchor="middle">800 ms</text>
<text x="202.8" y="561.7" font-size="6.4" fill="#222" text-anchor="middle">1000-2500 ms</text>
<text x="257" y="561.7" font-size="6.4" fill="#222" text-anchor="middle">1000 ms</text>
<text x="311.6" y="561.7" font-size="6.4" fill="#222" text-anchor="middle">Subject response</text>
</g>
<g id="fig2">
<rect x="139.4" y="575" width="183.6" height="71" fill="#fff"/>
<defs><marker id="ah" markerWidth="6" markerHeight="6" refX="5" refY="3" orient="auto" markerUnits="userSpaceOnUse"><path d="M0,0.8 L5.5,3 L0,5.2 Z" fill="#111"/></marker><marker id="ahg" markerWidth="4" markerHeight="4" refX="3" refY="2" orient="auto" markerUnits="userSpaceOnUse"><path d="M0,0.8 L3,2 L0,3.2 Z" fill="#555"/></marker></defs>
<polyline points="250.8,591.1 301.9,591.1 301.9,631.7 266.5,631.7" fill="none" stroke="#111" stroke-width="1.1" marker-end="url(#ah)"/>
<polyline points="204.7,635.6 160.8,635.6 160.8,587.7 218.8,587.7" fill="none" stroke="#111" stroke-width="1.2" marker-end="url(#ah)"/>
<polyline points="204.7,626.7 167.5,626.7 167.5,594.7 218.8,594.7" fill="none" stroke="#8a8a8a" stroke-width="1.3" marker-end="url(#ahg)"/>
<line x1="184.4" y1="621" x2="184.4" y2="641.6" stroke="#999" stroke-width="0.6"/>
<path d="M190,635.6 L184.8,635.6" stroke="#111" stroke-width="1.2" marker-end="url(#ah)"/>
<rect x="219.4" y="581.1" width="31.4" height="19.5" rx="3" fill="#fff" stroke="#111" stroke-width="0.9"/>
<rect x="204.7" y="621.6" width="60.9" height="20.4" rx="3" fill="#fff" stroke="#111" stroke-width="0.9"/>
<text x="235.1" y="594.3" font-size="8.6" fill="#222" text-anchor="middle">Agent</text>
<text x="235.1" y="635.2" font-size="8.6" fill="#222" text-anchor="middle">Environment</text>
<text x="151.9" y="607.6" font-size="5.6" fill="#1a1a1a" text-anchor="middle">state</text>
<text x="151.5" y="617" font-size="6.8" font-style="italic" font-family="Liberation Serif, serif" fill="#1a1a1a" text-anchor="middle">S<tspan font-size="3" dy="1">t</tspan></text>
<text x="170.3" y="607.6" font-size="5.6" fill="#1a1a1a">reward</text>
<text x="170.3" y="617" font-size="6.8" font-style="italic" font-family="Liberation Serif, serif" fill="#1a1a1a">R<tspan font-size="3" dy="1">t</tspan></text>
<text x="312" y="610.3" font-size="5.6" fill="#1a1a1a" text-anchor="middle">action</text>
<text x="307.5" y="619" font-size="6.8" font-style="italic" font-family="Liberation Serif, serif" fill="#1a1a1a">A<tspan font-size="3" dy="1">t</tspan></text>
<text x="191.5" y="624.6" font-size="5.4" font-style="italic" font-family="Liberation Serif, serif" fill="#333">R<tspan font-size="2.6" dy="0.8">t+1</tspan></text>
<text x="191.5" y="633.4" font-size="5.4" font-style="italic" font-family="Liberation Serif, serif" fill="#333">S<tspan font-size="2.6" dy="0.8">t+1</tspan></text>
<circle cx="187.2" cy="626.7" r="0.9" fill="#111"/>
</g>
<g id="fig3">
<rect x="397.5" y="390" width="300.5" height="193" fill="#fff"/>
<rect x="420.2" y="399.3" width="67.60000000000002" height="74.0" fill="none" stroke="#444" stroke-width="0.6"/>
<rect x="423.3" y="437.6" width="23" height="35.7" fill="#FBAE2E"/>
<rect x="461.6" y="435.2" width="23.4" height="38.1" fill="#902C2C"/>
<path d="M434.8,435.6 V439.6 M433.4,435.6 H436.2 M433.4,439.6 H436.2 M473.3,433.2 V437.2 M471.9,433.2 H474.7 M471.9,437.2 H474.7" stroke="#222" stroke-width="0.5"/>
<text x="417.7" y="475.3" font-size="5.8" fill="#333" text-anchor="end" >0</text>
<line x1="419.0" y1="473.3" x2="420.2" y2="473.3" stroke="#444" stroke-width="0.4"/>
<text x="417.7" y="460.5" font-size="5.8" fill="#333" text-anchor="end" >0.2</text>
<line x1="419.0" y1="458.5" x2="420.2" y2="458.5" stroke="#444" stroke-width="0.4"/>
<text x="417.7" y="445.7" font-size="5.8" fill="#333" text-anchor="end" >0.4</text>
<line x1="419.0" y1="443.7" x2="420.2" y2="443.7" stroke="#444" stroke-width="0.4"/>
<text x="417.7" y="430.90000000000003" font-size="5.8" fill="#333" text-anchor="end" >0.6</text>
<line x1="419.0" y1="428.90000000000003" x2="420.2" y2="428.90000000000003" stroke="#444" stroke-width="0.4"/>
<text x="417.7" y="416.1" font-size="5.8" fill="#333" text-anchor="end" >0.8</text>
<line x1="419.0" y1="414.1" x2="420.2" y2="414.1" stroke="#444" stroke-width="0.4"/>
<text x="417.7" y="401.3" font-size="5.8" fill="#333" text-anchor="end" >1</text>
<line x1="419.0" y1="399.3" x2="420.2" y2="399.3" stroke="#444" stroke-width="0.4"/>
<text x="435.1" y="479.4" font-size="6.1" fill="#333" text-anchor="middle" >Left path</text>
<text x="473" y="479.4" font-size="6.1" fill="#333" text-anchor="middle" >Right path</text>
<text x="453.8" y="485.8" font-size="6.1" fill="#333" text-anchor="middle" >Symmetric</text>
<text transform="translate(402.5,436.3) rotate(-90)" font-size="6" fill="#333" text-anchor="middle">Probability of choosing</text>
<text transform="translate(408,436.3) rotate(-90)" font-size="6" fill="#333" text-anchor="middle">each path</text>
<text x="413.5" y="395.3" font-size="4.6" font-weight="bold" fill="#111" text-anchor="middle">A</text>
<rect x="500.8" y="399.3" width="68.40000000000003" height="74.0" fill="none" stroke="#444" stroke-width="0.6"/>
<rect x="505" y="407.5" width="23" height="65.8" fill="#F020F0"/>
<rect x="543" y="465.6" width="23" height="7.7" fill="#2EC0F0"/>
<path d="M516.5,404.5 V410.5 M515.1,404.5 H517.9 M515.1,410.5 H517.9 M554.5,462.6 V468.6 M553.1,462.6 H555.9 M553.1,468.6 H555.9" stroke="#222" stroke-width="0.5"/>
<text x="498.3" y="475.3" font-size="5.8" fill="#333" text-anchor="end" >0</text>
<line x1="499.6" y1="473.3" x2="500.8" y2="473.3" stroke="#444" stroke-width="0.4"/>
<text x="498.3" y="460.5" font-size="5.8" fill="#333" text-anchor="end" >0.2</text>
<line x1="499.6" y1="458.5" x2="500.8" y2="458.5" stroke="#444" stroke-width="0.4"/>
<text x="498.3" y="445.7" font-size="5.8" fill="#333" text-anchor="end" >0.4</text>
<line x1="499.6" y1="443.7" x2="500.8" y2="443.7" stroke="#444" stroke-width="0.4"/>
<text x="498.3" y="430.90000000000003" font-size="5.8" fill="#333" text-anchor="end" >0.6</text>
<line x1="499.6" y1="428.90000000000003" x2="500.8" y2="428.90000000000003" stroke="#444" stroke-width="0.4"/>
<text x="498.3" y="416.1" font-size="5.8" fill="#333" text-anchor="end" >0.8</text>
<line x1="499.6" y1="414.1" x2="500.8" y2="414.1" stroke="#444" stroke-width="0.4"/>
<text x="498.3" y="401.3" font-size="5.8" fill="#333" text-anchor="end" >1</text>
<line x1="499.6" y1="399.3" x2="500.8" y2="399.3" stroke="#444" stroke-width="0.4"/>
<text x="516.5" y="479.4" font-size="6.1" fill="#333" text-anchor="middle" >Short path</text>
<text x="554.5" y="479.4" font-size="6.1" fill="#333" text-anchor="middle" >Long path</text>
<text x="536" y="485.8" font-size="6.1" fill="#333" text-anchor="middle" >Nonsymmetric</text>
<text x="494.6" y="395.3" font-size="4.6" font-weight="bold" fill="#111" text-anchor="middle">B</text>
<rect x="604.4" y="398.6" width="80.39999999999998" height="74.39999999999998" fill="none" stroke="#555" stroke-width="0.6"/>
<text x="602.4" y="474.0" font-size="3.4" fill="#333" text-anchor="end">0.600</text>
<text x="602.4" y="463.8082191780822" font-size="3.4" fill="#333" text-anchor="end">0.625</text>
<text x="602.4" y="453.6164383561644" font-size="3.4" fill="#333" text-anchor="end">0.650</text>
<text x="602.4" y="443.4246575342466" font-size="3.4" fill="#333" text-anchor="end">0.675</text>
<text x="602.4" y="433.2328767123288" font-size="3.4" fill="#333" text-anchor="end">0.700</text>
<text x="602.4" y="423.041095890411" font-size="3.4" fill="#333" text-anchor="end">0.725</text>
<text x="602.4" y="412.8493150684932" font-size="3.4" fill="#333" text-anchor="end">0.750</text>
<text x="602.4" y="402.6575342465754" font-size="3.4" fill="#333" text-anchor="end">0.775</text>
<polyline points="608.3,440.7 644.5,449.2 680.9,425.5" fill="none" stroke="#2E8B2E" stroke-width="0.9"/>
<text transform="translate(608.3,481) rotate(-8)" font-size="6" fill="#333" text-anchor="middle">Forward</text>
<text transform="translate(644.5,481) rotate(-8)" font-size="6" fill="#333" text-anchor="middle">Backward</text>
<text transform="translate(680.9,481) rotate(-8)" font-size="6" fill="#333" text-anchor="middle">Bidirectional</text>
<text x="595.6" y="395.3" font-size="4.6" font-weight="bold" fill="#111" text-anchor="middle">C</text>
<path d="M608.3,434.8 V446.4 M606.8,434.8 H609.8 M606.8,446.4 H609.8 M644.5,444.4 V454.6 M643,444.4 H646 M643,454.6 H646 M680.9,419.2 V431.6 M679.4,419.2 H682.4 M679.4,431.6 H682.4" stroke="#5050D8" stroke-width="1"/>
<text transform="translate(584.3,436.2) rotate(-90)" font-size="6" fill="#333" text-anchor="middle">Probability of choosing</text>
<text transform="translate(589.8,436.2) rotate(-90)" font-size="6" fill="#333" text-anchor="middle">the green paths</text>
<rect x="421.2" y="500" width="69.0" height="69.20000000000005" fill="none" stroke="#555" stroke-width="0.6"/>
<text x="419.2" y="570.2" font-size="3.4" fill="#333" text-anchor="end">0.600</text>
<text x="419.2" y="560.7205479452056" font-size="3.4" fill="#333" text-anchor="end">0.625</text>
<text x="419.2" y="551.241095890411" font-size="3.4" fill="#333" text-anchor="end">0.650</text>
<text x="419.2" y="541.7616438356165" font-size="3.4" fill="#333" text-anchor="end">0.675</text>
<text x="419.2" y="532.2821917808219" font-size="3.4" fill="#333" text-anchor="end">0.700</text>
<text x="419.2" y="522.8027397260274" font-size="3.4" fill="#333" text-anchor="end">0.725</text>
<text x="419.2" y="513.3232876712328" font-size="3.4" fill="#333" text-anchor="end">0.750</text>
<text x="419.2" y="503.84383561643835" font-size="3.4" fill="#333" text-anchor="end">0.775</text>
<polyline points="424,526 456.2,544.4 487.8,521.3" fill="none" stroke="#2E8B2E" stroke-width="0.9"/>
<polyline points="424,551 456.2,557.9 487.8,539.7" fill="none" stroke="#E8322E" stroke-width="0.9"/>
<circle cx="424" cy="551" r="0.9" fill="#E8322E"/>
<circle cx="456.2" cy="557.9" r="0.9" fill="#E8322E"/>
<circle cx="487.8" cy="539.7" r="0.9" fill="#E8322E"/>
<text transform="translate(424,577.2) rotate(-8)" font-size="6" fill="#333" text-anchor="middle">Forward</text>
<text transform="translate(456.2,577.2) rotate(-8)" font-size="6" fill="#333" text-anchor="middle">Backward</text>
<text transform="translate(487.8,577.2) rotate(-8)" font-size="6" fill="#333" text-anchor="middle">Bidirectional</text>
<text x="414.4" y="495.8" font-size="4.6" font-weight="bold" fill="#111" text-anchor="middle">D</text>
<rect x="424.0" y="502.9" width="30" height="15.6" fill="#fff" stroke="#ddd" stroke-width="0.4"/>
<line x1="426.0" y1="506.8" x2="436.8" y2="506.8" stroke="#E8322E" stroke-width="0.9"/><circle cx="431.4" cy="506.8" r="0.9" fill="#E8322E"/>
<line x1="426.0" y1="513.9" x2="436.8" y2="513.9" stroke="#2E8B2E" stroke-width="0.9"/>
<text x="440.3" y="509" font-size="6" fill="#333">Fast</text>
<text x="440.3" y="516" font-size="6" fill="#333">Slow</text>
<text transform="translate(402.5,534.8) rotate(-90)" font-size="6" fill="#333" text-anchor="middle">Probability of choosing</text>
<text transform="translate(408,534.8) rotate(-90)" font-size="6" fill="#333" text-anchor="middle">the green paths</text>
<rect x="514.7" y="500" width="71.39999999999998" height="69.20000000000005" fill="none" stroke="#555" stroke-width="0.6"/>
<text x="512.7" y="570.2" font-size="3.4" fill="#333" text-anchor="end">0.600</text>
<text x="512.7" y="560.7205479452056" font-size="3.4" fill="#333" text-anchor="end">0.625</text>
<text x="512.7" y="551.241095890411" font-size="3.4" fill="#333" text-anchor="end">0.650</text>
<text x="512.7" y="541.7616438356165" font-size="3.4" fill="#333" text-anchor="end">0.675</text>
<text x="512.7" y="532.2821917808219" font-size="3.4" fill="#333" text-anchor="end">0.700</text>
<text x="512.7" y="522.8027397260274" font-size="3.4" fill="#333" text-anchor="end">0.725</text>
<text x="512.7" y="513.3232876712328" font-size="3.4" fill="#333" text-anchor="end">0.750</text>
<text x="512.7" y="503.84383561643835" font-size="3.4" fill="#333" text-anchor="end">0.775</text>
<polyline points="517.5,526 552.7,535.2 583.7,505.4" fill="none" stroke="#2E8B2E" stroke-width="0.9"/>
<polyline points="517.5,553.1 552.7,555.5 583.7,530.8" fill="none" stroke="#E8322E" stroke-width="0.9"/>
<circle cx="517.5" cy="553.1" r="0.9" fill="#E8322E"/>
<circle cx="552.7" cy="555.5" r="0.9" fill="#E8322E"/>
<circle cx="583.7" cy="530.8" r="0.9" fill="#E8322E"/>
<text transform="translate(517.5,577.2) rotate(-8)" font-size="6" fill="#333" text-anchor="middle">Forward</text>
<text transform="translate(552.7,577.2) rotate(-8)" font-size="6" fill="#333" text-anchor="middle">Backward</text>
<text transform="translate(583.7,577.2) rotate(-8)" font-size="6" fill="#333" text-anchor="middle">Bidirectional</text>
<text x="510.3" y="495.8" font-size="4.6" font-weight="bold" fill="#111" text-anchor="middle">E</text>
<rect x="517.5" y="502.9" width="44" height="15.6" fill="#fff" stroke="#ddd" stroke-width="0.4"/>
<line x1="519.5" y1="506.8" x2="530.3" y2="506.8" stroke="#E8322E" stroke-width="0.9"/><circle cx="524.9" cy="506.8" r="0.9" fill="#E8322E"/>
<line x1="519.5" y1="513.9" x2="530.3" y2="513.9" stroke="#2E8B2E" stroke-width="0.9"/>
<text x="533.8" y="509" font-size="6" fill="#333">Compact</text>
<text x="533.8" y="516" font-size="6" fill="#333">Sharp</text>
<rect x="610.3" y="500" width="71.5" height="69.20000000000005" fill="none" stroke="#555" stroke-width="0.6"/>
<text x="608.3" y="570.2" font-size="3.4" fill="#333" text-anchor="end">0.600</text>
<text x="608.3" y="560.7205479452056" font-size="3.4" fill="#333" text-anchor="end">0.625</text>
<text x="608.3" y="551.241095890411" font-size="3.4" fill="#333" text-anchor="end">0.650</text>
<text x="608.3" y="541.7616438356165" font-size="3.4" fill="#333" text-anchor="end">0.675</text>
<text x="608.3" y="532.2821917808219" font-size="3.4" fill="#333" text-anchor="end">0.700</text>
<text x="608.3" y="522.8027397260274" font-size="3.4" fill="#333" text-anchor="end">0.725</text>
<text x="608.3" y="513.3232876712328" font-size="3.4" fill="#333" text-anchor="end">0.750</text>
<text x="608.3" y="503.84383561643835" font-size="3.4" fill="#333" text-anchor="end">0.775</text>
<polyline points="612,532.5 649,539.8 680.6,516.8" fill="none" stroke="#2E8B2E" stroke-width="0.9"/>
<polyline points="612,546.6 649,553.1 680.6,535.2" fill="none" stroke="#E8322E" stroke-width="0.9"/>
<circle cx="612" cy="546.6" r="0.9" fill="#E8322E"/>
<circle cx="649" cy="553.1" r="0.9" fill="#E8322E"/>
<circle cx="680.6" cy="535.2" r="0.9" fill="#E8322E"/>
<text transform="translate(612,577.2) rotate(-8)" font-size="6" fill="#333" text-anchor="middle">Forward</text>
<text transform="translate(649,577.2) rotate(-8)" font-size="6" fill="#333" text-anchor="middle">Backward</text>
<text transform="translate(680.6,577.2) rotate(-8)" font-size="6" fill="#333" text-anchor="middle">Bidirectional</text>
<text x="607.2" y="495.8" font-size="4.6" font-weight="bold" fill="#111" text-anchor="middle">F</text>
<rect x="613.0999999999999" y="502.9" width="30" height="15.6" fill="#fff" stroke="#ddd" stroke-width="0.4"/>
<line x1="615.0999999999999" y1="506.8" x2="625.8999999999999" y2="506.8" stroke="#E8322E" stroke-width="0.9"/><circle cx="620.4999999999999" cy="506.8" r="0.9" fill="#E8322E"/>
<line x1="615.0999999999999" y1="513.9" x2="625.8999999999999" y2="513.9" stroke="#2E8B2E" stroke-width="0.9"/>
<text x="629.3999999999999" y="509" font-size="6" fill="#333">Long</text>
<text x="629.3999999999999" y="516" font-size="6" fill="#333">Short</text>
</g>
<g id="fig4">
<rect x="398.9" y="592" width="408.1" height="105.2" fill="#fff"/>
<polyline points="432.3,603.5 409.1,603.5 409.1,670.9 432.3,651.7 432.3,670.9" fill="none" stroke="#1E8C1E" stroke-width="1.3"/>
<polyline points="432.3,603.5 455.3,603.5 455.3,670.9 432.3,690 432.3,670.9" fill="none" stroke="#E41A1C" stroke-width="1.3"/>
<circle cx="409.1" cy="603.5" r="2.2" fill="#6A0D8C"/><circle cx="455.3" cy="603.5" r="2.2" fill="#6A0D8C"/>
<circle cx="409.1" cy="620.4" r="2.2" fill="#6A0D8C"/><circle cx="455.3" cy="620.4" r="2.2" fill="#6A0D8C"/>
<circle cx="409.1" cy="637.1" r="2.2" fill="#6A0D8C"/><circle cx="455.3" cy="637.1" r="2.2" fill="#6A0D8C"/>
<circle cx="409.1" cy="653.8" r="2.2" fill="#6A0D8C"/><circle cx="455.3" cy="653.8" r="2.2" fill="#6A0D8C"/>
<circle cx="409.1" cy="670.9" r="2.2" fill="#6A0D8C"/><circle cx="455.3" cy="670.9" r="2.2" fill="#6A0D8C"/>
<circle cx="432.3" cy="651.7" r="2.2" fill="#6A0D8C"/><circle cx="432.3" cy="690" r="2.2" fill="#6A0D8C"/><circle cx="432.3" cy="670.9" r="2.2" fill="#1010F0"/><circle cx="432.3" cy="603.5" r="1" fill="#F0A030"/>
<text x="407.2" y="599.8" font-size="4.6" font-weight="bold" fill="#111" text-anchor="middle">A</text>
<path d="M578.5,608.4 H501.2 V677.1 H578.5 V608.4" fill="none" stroke="#555" stroke-width="0.6"/>
<text x="499.4" y="610.6999999999999" font-size="6.4" fill="#333" text-anchor="end">1.0</text>
<line x1="499.9" y1="608.4" x2="501.2" y2="608.4" stroke="#555" stroke-width="0.4"/>
<text x="499.4" y="635.6999999999999" font-size="6.4" fill="#333" text-anchor="end">0.8</text>
<line x1="499.9" y1="633.4" x2="501.2" y2="633.4" stroke="#555" stroke-width="0.4"/>
<text x="499.4" y="660.4" font-size="6.4" fill="#333" text-anchor="end">0.6</text>
<line x1="499.9" y1="658.1" x2="501.2" y2="658.1" stroke="#555" stroke-width="0.4"/>
<polyline points="504.8,644.9 540.2,663.7 575.3,619.6" fill="none" stroke="#2E8B2E" stroke-width="0.9"/>
<polyline points="504.8,653.8 540.2,668.8 575.3,624.7" fill="none" stroke="#E8322E" stroke-width="0.9"/>
<circle cx="504.8" cy="653.8" r="0.9" fill="#E8322E"/>
<circle cx="540.2" cy="668.8" r="0.9" fill="#E8322E"/>
<circle cx="575.3" cy="624.7" r="0.9" fill="#E8322E"/>
<text transform="translate(504.8,686.1) rotate(-8)" font-size="6" fill="#333" text-anchor="middle">Forward</text>
<text transform="translate(540.2,686.1) rotate(-8)" font-size="6" fill="#333" text-anchor="middle">Backward</text>
<text transform="translate(575.3,686.1) rotate(-8)" font-size="6" fill="#333" text-anchor="middle">Bidirectional</text>
<text x="496.4" y="601.4" font-size="4.8" font-weight="bold" fill="#111" text-anchor="middle">B</text>
<rect x="504" y="611.1" width="32.2" height="17.5" fill="#fff" stroke="#e4e4e4" stroke-width="0.4"/>
<line x1="505.8" y1="615.9" x2="517.5" y2="615.9" stroke="#E8322E" stroke-width="0.9"/><circle cx="511.6" cy="615.9" r="0.9" fill="#E8322E"/>
<line x1="505.8" y1="623.9" x2="517.5" y2="623.9" stroke="#2E8B2E" stroke-width="0.9"/>
<text x="521.9" y="618.3" font-size="6.3" fill="#333">Fast</text>
<text x="521.9" y="626.3" font-size="6.3" fill="#333">Slow</text>
<path d="M685.5,608.4 H607.4 V677.1 H685.5 V608.4" fill="none" stroke="#555" stroke-width="0.6"/>
<text x="605.6" y="610.6999999999999" font-size="6.4" fill="#333" text-anchor="end">1.0</text>
<line x1="606.1" y1="608.4" x2="607.4" y2="608.4" stroke="#555" stroke-width="0.4"/>
<text x="605.6" y="635.6999999999999" font-size="6.4" fill="#333" text-anchor="end">0.8</text>
<line x1="606.1" y1="633.4" x2="607.4" y2="633.4" stroke="#555" stroke-width="0.4"/>
<text x="605.6" y="660.4" font-size="6.4" fill="#333" text-anchor="end">0.6</text>
<line x1="606.1" y1="658.1" x2="607.4" y2="658.1" stroke="#555" stroke-width="0.4"/>
<polyline points="611,634.8 646.2,662.4 682.1,616.4" fill="none" stroke="#2E8B2E" stroke-width="0.9"/>
<polyline points="611,662.9 646.2,665.7 682.1,631.5" fill="none" stroke="#E8322E" stroke-width="0.9"/>
<circle cx="611" cy="662.9" r="0.9" fill="#E8322E"/>
<circle cx="646.2" cy="665.7" r="0.9" fill="#E8322E"/>
<circle cx="682.1" cy="631.5" r="0.9" fill="#E8322E"/>
<text transform="translate(611,686.1) rotate(-8)" font-size="6" fill="#333" text-anchor="middle">Forward</text>
<text transform="translate(646.2,686.1) rotate(-8)" font-size="6" fill="#333" text-anchor="middle">Backward</text>
<text transform="translate(682.1,686.1) rotate(-8)" font-size="6" fill="#333" text-anchor="middle">Bidirectional</text>
<text x="602.7" y="601.4" font-size="4.8" font-weight="bold" fill="#111" text-anchor="middle">C</text>
<rect x="610.2" y="611.1" width="45.2" height="17.5" fill="#fff" stroke="#e4e4e4" stroke-width="0.4"/>
<line x1="612.0" y1="615.9" x2="623.7" y2="615.9" stroke="#E8322E" stroke-width="0.9"/><circle cx="617.8000000000001" cy="615.9" r="0.9" fill="#E8322E"/>
<line x1="612.0" y1="623.9" x2="623.7" y2="623.9" stroke="#2E8B2E" stroke-width="0.9"/>
<text x="628.1" y="618.3" font-size="6.3" fill="#333">Compact</text>
<text x="628.1" y="626.3" font-size="6.3" fill="#333">Sharp</text>
<path d="M791.6,608.4 H714.4 V677.1 H791.6" fill="none" stroke="#555" stroke-width="0.6"/>
<text x="712.6" y="610.6999999999999" font-size="6.4" fill="#333" text-anchor="end">1.0</text>
<line x1="713.1" y1="608.4" x2="714.4" y2="608.4" stroke="#555" stroke-width="0.4"/>
<text x="712.6" y="635.6999999999999" font-size="6.4" fill="#333" text-anchor="end">0.8</text>
<line x1="713.1" y1="633.4" x2="714.4" y2="633.4" stroke="#555" stroke-width="0.4"/>
<text x="712.6" y="660.4" font-size="6.4" fill="#333" text-anchor="end">0.6</text>
<line x1="713.1" y1="658.1" x2="714.4" y2="658.1" stroke="#555" stroke-width="0.4"/>
<polyline points="718,626.1 753.2,653.7 788.3,619.8" fill="none" stroke="#2E8B2E" stroke-width="0.9"/>
<polyline points="718,661.6 753.2,670.3 788.3,630.1" fill="none" stroke="#E8322E" stroke-width="0.9"/>
<circle cx="718" cy="661.6" r="0.9" fill="#E8322E"/>
<circle cx="753.2" cy="670.3" r="0.9" fill="#E8322E"/>
<circle cx="788.3" cy="630.1" r="0.9" fill="#E8322E"/>
<text transform="translate(718,686.1) rotate(-8)" font-size="6" fill="#333" text-anchor="middle">Forward</text>
<text transform="translate(753.2,686.1) rotate(-8)" font-size="6" fill="#333" text-anchor="middle">Backward</text>
<text transform="translate(788.3,686.1) rotate(-8)" font-size="6" fill="#333" text-anchor="middle">Bidirectional</text>
<text x="709.7" y="601.4" font-size="4.8" font-weight="bold" fill="#111" text-anchor="middle">D</text>
<rect x="735.6" y="611.1" width="35.1" height="17.5" fill="#fff" stroke="#e4e4e4" stroke-width="0.4"/>
<line x1="737.4" y1="615.9" x2="749.1" y2="615.9" stroke="#E8322E" stroke-width="0.9"/><circle cx="743.2" cy="615.9" r="0.9" fill="#E8322E"/>
<line x1="737.4" y1="623.9" x2="749.1" y2="623.9" stroke="#2E8B2E" stroke-width="0.9"/>
<text x="753.5" y="618.3" font-size="6.3" fill="#333">Long</text>
<text x="753.5" y="626.3" font-size="6.3" fill="#333">Short</text>
<text transform="translate(481.5,643) rotate(-90)" font-size="6.2" fill="#333" text-anchor="middle">Probability of choosing</text>
<text transform="translate(487.6,643) rotate(-90)" font-size="6.2" fill="#333" text-anchor="middle">green paths</text>
</g>
<g id="fig5">
<polygon points="766.9,505.4 793.9,505.4 793.9,548 780.6,557.5 780.6,538.1 766.9,547.6" fill="none" stroke="#423E38" stroke-width="2.0" stroke-linejoin="miter"/>
<circle cx="780.6" cy="505.4" r="1.3" fill="#111"/>
<circle cx="780.6" cy="547" r="1.3" fill="#111"/>
<polygon points="812.7,505.2 844.9,505.2 844.9,570.8 828.7,579.7 828.7,560.3 812.7,570.2" fill="none" stroke="#423E38" stroke-width="2.0" stroke-linejoin="miter"/>
<circle cx="828.7" cy="505.2" r="1.3" fill="#111"/>
<circle cx="828.7" cy="569.7" r="1.3" fill="#111"/>
<polygon points="929.3,504.1 960.3,504.1 960.3,553.3 945.1,538.9 945.1,567 929.3,553.3" fill="none" stroke="#423E38" stroke-width="2.0" stroke-linejoin="miter"/>
<circle cx="945.1" cy="504.1" r="1.3" fill="#111"/>
<circle cx="945.1" cy="552.9" r="1.3" fill="#111"/>
<polygon points="977.8,505.8 1009.9,505.8 1009.9,562.2 994.7,557.9 994.7,566.4 977.8,562.8" fill="none" stroke="#423E38" stroke-width="2.0" stroke-linejoin="miter"/>
<circle cx="994.7" cy="505.8" r="1.3" fill="#111"/>
<circle cx="994.7" cy="560.5" r="1.3" fill="#111"/>
<rect x="856.1" y="502" width="56.3" height="69.2" fill="#fff"/>
<rect x="862.2" y="504.3" width="47.1" height="49" fill="#D3D3D3"/>
<line x1="862.2" y1="504.7" x2="909.3" y2="504.7" stroke="#999" stroke-width="0.7"/><line x1="908.9" y1="504.3" x2="908.9" y2="553.3" stroke="#999" stroke-width="0.7"/>
<polygon points="878.7,511.7 891.4,511.7 894.1,542.7 885,552.2 885,534.3 876,542.3" fill="none" stroke="#111" stroke-width="1.2"/>
<line x1="885" y1="540" x2="885" y2="546" stroke="#2020E0" stroke-width="0.8"/>
<line x1="884" y1="511.7" x2="887" y2="511.7" stroke="#C03070" stroke-width="0.8"/>
<text x="884.5" y="566" font-size="7.8" fill="#1a1a1a" text-anchor="middle" textLength="49" lengthAdjust="spacingAndGlyphs">1000-2500 ms</text>
<rect x="858.1" y="555.5" width="53.2" height="14" fill="none" stroke="#1A2FD0" stroke-width="1.6" stroke-dasharray="9,4"/>
</g>
<g id="code">
<rect x="1020.5" y="237" width="234.5" height="365.5" fill="#F4F4F6"/>
<line x1="1024.0" y1="245.3" x2="1024.0" y2="601.7" stroke="#E0E0E4" stroke-width="0.4"/>
<line x1="1034.7" y1="298.1" x2="1034.7" y2="390.5" stroke="#E0E0E4" stroke-width="0.4"/>
<line x1="1034.7" y1="436.7" x2="1034.7" y2="595.1" stroke="#E0E0E4" stroke-width="0.4"/>
<line x1="1045.4" y1="449.9" x2="1045.4" y2="595.1" stroke="#E0E0E4" stroke-width="0.4"/>
<line x1="1056.2" y1="463.1" x2="1056.2" y2="562.1" stroke="#E0E0E4" stroke-width="0.4"/>
<line x1="1066.9" y1="476.3" x2="1066.9" y2="496.1" stroke="#E0E0E4" stroke-width="0.4"/>
<line x1="1066.9" y1="515.9" x2="1066.9" y2="529.1" stroke="#E0E0E4" stroke-width="0.4"/>
<line x1="1066.9" y1="542.3" x2="1066.9" y2="562.1" stroke="#E0E0E4" stroke-width="0.4"/>
<line x1="1077.6" y1="542.3" x2="1077.6" y2="548.9" stroke="#E0E0E4" stroke-width="0.4"/>
<line x1="1088.3" y1="542.3" x2="1088.3" y2="548.9" stroke="#E0E0E4" stroke-width="0.4"/>
<text x="1023.20" y="243.80" font-family="Liberation Mono, monospace" font-size="4.467" fill="#2E2E2E" style="white-space:pre"><tspan fill="#5C6FB5">def</tspan> bidirectional_planning_under_pavlovian_approach_bias(env, agent):</text>
<text x="1033.92" y="250.40" font-family="Liberation Mono, monospace" font-size="4.467" fill="#2E2E2E" style="white-space:pre"><tspan fill="#B4B4B4" font-style="italic"># Pavlovian bias control on bidirectional planning</tspan></text>
<text x="1033.92" y="257.00" font-family="Liberation Mono, monospace" font-size="4.467" fill="#2E2E2E" style="white-space:pre">agent.capacity_fw = X</text>
<text x="1033.92" y="263.60" font-family="Liberation Mono, monospace" font-size="4.467" fill="#2E2E2E" style="white-space:pre">agent.capacity_bw = Y</text>
<text x="1033.92" y="270.20" font-family="Liberation Mono, monospace" font-size="4.467" fill="#2E2E2E" style="white-space:pre">agent.total_capacity = agent.capacity_fw + agent.capacity_bw</text>
<text x="1033.92" y="276.80" font-family="Liberation Mono, monospace" font-size="4.467" fill="#2E2E2E" style="white-space:pre"><tspan fill="#5C6FB5">assert</tspan> agent.capacity_fw &gt; agent.capacity_bw</text>
<text x="1033.92" y="283.40" font-family="Liberation Mono, monospace" font-size="4.467" fill="#2E2E2E" style="white-space:pre"><tspan fill="#5C6FB5">assert</tspan> agent.total_capacity &lt; Total_Capacity_Limit</text>
<text x="1033.92" y="296.60" font-family="Liberation Mono, monospace" font-size="4.467" fill="#2E2E2E" style="white-space:pre"><tspan fill="#5C6FB5">if</tspan> agent.task == <tspan fill="#4E9A4E">&#x27;slow_fast&#x27;</tspan>:</text>
<text x="1044.64" y="303.20" font-family="Liberation Mono, monospace" font-size="4.467" fill="#2E2E2E" style="white-space:pre">agent.d_fw_green = <tspan fill="#A0409A">int</tspan>(agent.capacity_fw * α)</text>
<text x="1044.64" y="309.80" font-family="Liberation Mono, monospace" font-size="4.467" fill="#2E2E2E" style="white-space:pre">agent.d_fw_red = agent.capacity_fw - agent.d_fw_green</text>
<text x="1044.64" y="316.40" font-family="Liberation Mono, monospace" font-size="4.467" fill="#2E2E2E" style="white-space:pre">agent.d_bw_green = <tspan fill="#A0409A">int</tspan>(agent.capacity_bw * α)</text>
<text x="1044.64" y="323.00" font-family="Liberation Mono, monospace" font-size="4.467" fill="#2E2E2E" style="white-space:pre">agent.d_bw_red = agent.capacity_bw - agent.d_bw_green</text>
<text x="1033.92" y="329.60" font-family="Liberation Mono, monospace" font-size="4.467" fill="#2E2E2E" style="white-space:pre"><tspan fill="#5C6FB5">elif</tspan> agent.task == <tspan fill="#4E9A4E">&#x27;sharp_compact&#x27;</tspan>:</text>
<text x="1044.64" y="336.20" font-family="Liberation Mono, monospace" font-size="4.467" fill="#2E2E2E" style="white-space:pre">agent.d_fw_green = <tspan fill="#A0409A">int</tspan>(agent.capacity_fw * β)</text>
<text x="1044.64" y="342.80" font-family="Liberation Mono, monospace" font-size="4.467" fill="#2E2E2E" style="white-space:pre">agent.d_fw_red = agent.capacity_fw - agent.d_fw_green</text>
<text x="1044.64" y="349.40" font-family="Liberation Mono, monospace" font-size="4.467" fill="#2E2E2E" style="white-space:pre">agent.d_bw_green = <tspan fill="#A0409A">int</tspan>(agent.capacity_bw * β)</text>
<text x="1044.64" y="356.00" font-family="Liberation Mono, monospace" font-size="4.467" fill="#2E2E2E" style="white-space:pre">agent.d_bw_red = agent.capacity_bw - agent.d_bw_green</text>
<text x="1033.92" y="362.60" font-family="Liberation Mono, monospace" font-size="4.467" fill="#2E2E2E" style="white-space:pre"><tspan fill="#5C6FB5">elif</tspan> agent.task == <tspan fill="#4E9A4E">&#x27;short_long&#x27;</tspan>:</text>
<text x="1044.64" y="369.20" font-family="Liberation Mono, monospace" font-size="4.467" fill="#2E2E2E" style="white-space:pre">agent.d_fw_green = <tspan fill="#A0409A">int</tspan>(agent.capacity_fw * η)</text>
<text x="1044.64" y="375.80" font-family="Liberation Mono, monospace" font-size="4.467" fill="#2E2E2E" style="white-space:pre">agent.d_fw_red = agent.capacity_fw - agent.d_fw_green</text>
<text x="1044.64" y="382.40" font-family="Liberation Mono, monospace" font-size="4.467" fill="#2E2E2E" style="white-space:pre">agent.d_bw_green = <tspan fill="#A0409A">int</tspan>(agent.capacity_bw * η)</text>
<text x="1044.64" y="389.00" font-family="Liberation Mono, monospace" font-size="4.467" fill="#2E2E2E" style="white-space:pre">agent.d_bw_red = agent.capacity_bw - agent.d_bw_green</text>
<text x="1033.92" y="402.20" font-family="Liberation Mono, monospace" font-size="4.467" fill="#2E2E2E" style="white-space:pre"><tspan fill="#B4B4B4" font-style="italic"># Initialize value functions and policies</tspan></text>
<text x="1033.92" y="408.80" font-family="Liberation Mono, monospace" font-size="4.467" fill="#2E2E2E" style="white-space:pre">agent.V = np.zeros(env.num_states)</text>
<text x="1033.92" y="415.40" font-family="Liberation Mono, monospace" font-size="4.467" fill="#2E2E2E" style="white-space:pre">agent.pi = <tspan fill="#5C6FB5">lambda</tspan> s, a: agent.pi_green[s] &gt; <tspan fill="#C07A3A">0.5</tspan></text>
<text x="1033.92" y="428.60" font-family="Liberation Mono, monospace" font-size="4.467" fill="#2E2E2E" style="white-space:pre"><tspan fill="#B4B4B4" font-style="italic"># Main loop for bidirectional planning</tspan></text>
<text x="1033.92" y="435.20" font-family="Liberation Mono, monospace" font-size="4.467" fill="#2E2E2E" style="white-space:pre"><tspan fill="#5C6FB5">while</tspan> <tspan fill="#5C6FB5">True</tspan>:</text>
<text x="1044.64" y="441.80" font-family="Liberation Mono, monospace" font-size="4.467" fill="#2E2E2E" style="white-space:pre">delta = <tspan fill="#C07A3A">0</tspan></text>
<text x="1044.64" y="448.40" font-family="Liberation Mono, monospace" font-size="4.467" fill="#2E2E2E" style="white-space:pre"><tspan fill="#5C6FB5">for</tspan> s <tspan fill="#5C6FB5">in</tspan> <tspan fill="#A02828">range</tspan>(env.num_states):</text>
<text x="1055.36" y="455.00" font-family="Liberation Mono, monospace" font-size="4.467" fill="#2E2E2E" style="white-space:pre">v = agent.V[s]</text>
<text x="1055.36" y="461.60" font-family="Liberation Mono, monospace" font-size="4.467" fill="#2E2E2E" style="white-space:pre"><tspan fill="#5C6FB5">for</tspan> a <tspan fill="#5C6FB5">in</tspan> <tspan fill="#A02828">range</tspan>(env.n_actions):</text>
<text x="1066.08" y="468.20" font-family="Liberation Mono, monospace" font-size="4.467" fill="#2E2E2E" style="white-space:pre"><tspan fill="#B4B4B4" font-style="italic"># Forward planning with different depths for green and red paths</tspan></text>
<text x="1066.08" y="474.80" font-family="Liberation Mono, monospace" font-size="4.467" fill="#2E2E2E" style="white-space:pre">agent.Q_fw[s, a] = <tspan fill="#A02828">sum</tspan>(</text>
<text x="1076.80" y="481.40" font-family="Liberation Mono, monospace" font-size="4.467" fill="#2E2E2E" style="white-space:pre">agent.gamma**d * env.rewards[env.fw_states[s, a, d]]</text>
<text x="1076.80" y="488.00" font-family="Liberation Mono, monospace" font-size="4.467" fill="#2E2E2E" style="white-space:pre"><tspan fill="#5C6FB5">for</tspan> d <tspan fill="#5C6FB5">in</tspan> <tspan fill="#A02828">range</tspan>(<tspan fill="#C07A3A">1</tspan>, agent.d_fw_green <tspan fill="#5C6FB5">if</tspan> env.is_green[s, a]</text>
<text x="1076.80" y="494.60" font-family="Liberation Mono, monospace" font-size="4.467" fill="#2E2E2E" style="white-space:pre"><tspan fill="#5C6FB5">else</tspan> agent.d_fw_red + <tspan fill="#C07A3A">1</tspan>)</text>
<text x="1066.08" y="501.20" font-family="Liberation Mono, monospace" font-size="4.467" fill="#2E2E2E" style="white-space:pre">)</text>
<text x="1066.08" y="507.80" font-family="Liberation Mono, monospace" font-size="4.467" fill="#2E2E2E" style="white-space:pre"><tspan fill="#B4B4B4" font-style="italic"># Backward planning with different depths for green and red paths</tspan></text>
<text x="1066.08" y="514.40" font-family="Liberation Mono, monospace" font-size="4.467" fill="#2E2E2E" style="white-space:pre"><tspan fill="#5C6FB5">for</tspan> d <tspan fill="#5C6FB5">in</tspan> <tspan fill="#A02828">range</tspan>(<tspan fill="#C07A3A">1</tspan>, agent.d_bw_green <tspan fill="#5C6FB5">if</tspan> env.is_green[s, a]</text>
<text x="1076.80" y="521.00" font-family="Liberation Mono, monospace" font-size="4.467" fill="#2E2E2E" style="white-space:pre"><tspan fill="#5C6FB5">else</tspan> agent.d_bw_red + <tspan fill="#C07A3A">1</tspan>):</text>
<text x="1076.80" y="527.60" font-family="Liberation Mono, monospace" font-size="4.467" fill="#2E2E2E" style="white-space:pre">agent.V_bw[env.bw_states[s, a, d]] = agent.gamma**d * env.r_goal</text>
<text x="1066.08" y="534.20" font-family="Liberation Mono, monospace" font-size="4.467" fill="#2E2E2E" style="white-space:pre"><tspan fill="#B4B4B4" font-style="italic"># Combine forward and backward for bidirectional planning</tspan></text>
<text x="1066.08" y="540.80" font-family="Liberation Mono, monospace" font-size="4.467" fill="#2E2E2E" style="white-space:pre">V_max = <tspan fill="#A02828">max</tspan>(agent.V_bw[env.meet[s, a]],</text>
<text x="1098.24" y="547.40" font-family="Liberation Mono, monospace" font-size="4.467" fill="#2E2E2E" style="white-space:pre">agent.V[env.meet[s, a]])</text>
<text x="1066.08" y="554.00" font-family="Liberation Mono, monospace" font-size="4.467" fill="#2E2E2E" style="white-space:pre">agent.Q_bid[s, a] = env.rewards[s] + \</text>
<text x="1076.80" y="560.60" font-family="Liberation Mono, monospace" font-size="4.467" fill="#2E2E2E" style="white-space:pre">agent.gamma**agent.d_fw_meet[a] * V_max</text>
<text x="1055.36" y="567.20" font-family="Liberation Mono, monospace" font-size="4.467" fill="#2E2E2E" style="white-space:pre"><tspan fill="#B4B4B4" font-style="italic"># Update state value and check for convergence</tspan></text>
<text x="1055.36" y="573.80" font-family="Liberation Mono, monospace" font-size="4.467" fill="#2E2E2E" style="white-space:pre">agent.V[s] = <tspan fill="#A02828">max</tspan>(agent.Q_bid[s, :])</text>
<text x="1055.36" y="580.40" font-family="Liberation Mono, monospace" font-size="4.467" fill="#2E2E2E" style="white-space:pre">delta = <tspan fill="#A02828">max</tspan>(delta, <tspan fill="#A02828">abs</tspan>(v - agent.V[s]))</text>
<text x="1044.64" y="587.00" font-family="Liberation Mono, monospace" font-size="4.467" fill="#2E2E2E" style="white-space:pre"><tspan fill="#5C6FB5">if</tspan> delta &lt; agent.theta:</text>
<text x="1055.36" y="593.60" font-family="Liberation Mono, monospace" font-size="4.467" fill="#2E2E2E" style="white-space:pre"><tspan fill="#5C6FB5">break</tspan></text>
<text x="1033.92" y="600.20" font-family="Liberation Mono, monospace" font-size="4.467" fill="#2E2E2E" style="white-space:pre"><tspan fill="#5C6FB5">return</tspan> agent.V, agent.Q_fw, agent.Q_bid</text>
</g>
</svg>
</body></html>
